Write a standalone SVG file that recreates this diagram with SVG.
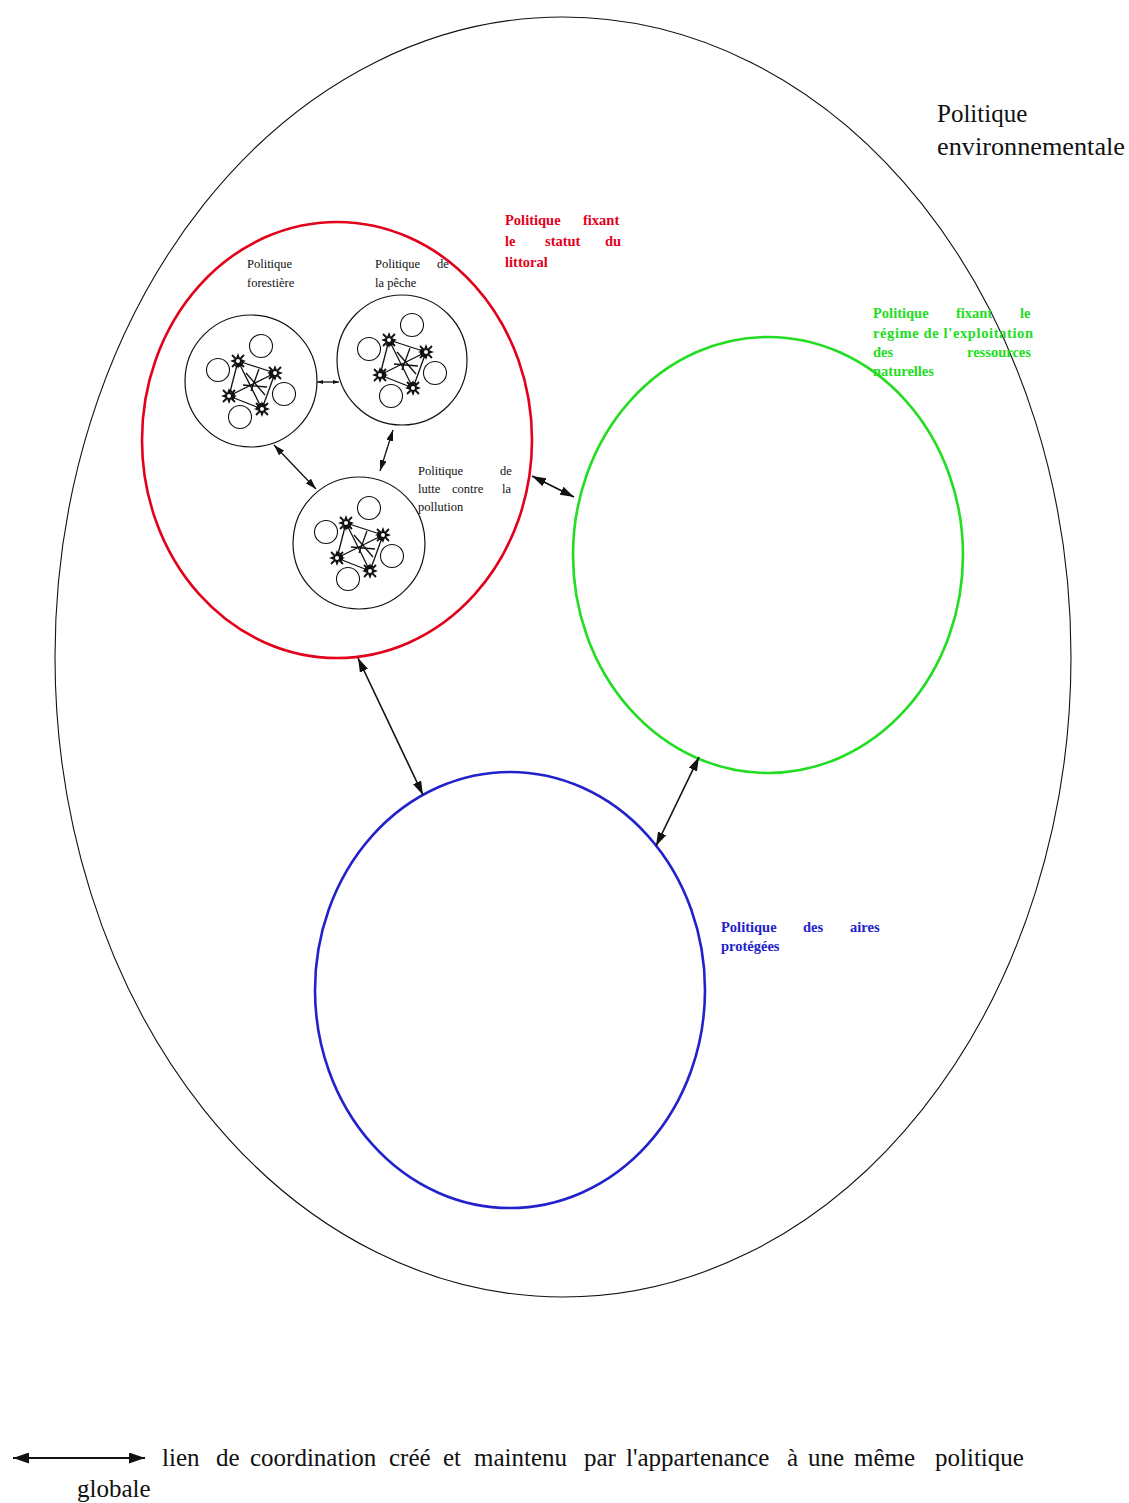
<svg xmlns="http://www.w3.org/2000/svg" xmlns:xlink="http://www.w3.org/1999/xlink" width="1129" height="1503" viewBox="0 0 1129 1503">
<style>
.serif{font-family:"Liberation Serif","Times New Roman",serif}
.big{font-size:25px;fill:#111}
.small{font-size:12.5px;fill:#111}
.lab{font-size:14.5px;font-weight:bold}
.red{fill:#e3001b}
.green{fill:#22dd22}
.blue{fill:#2222cc}
.conn line{stroke:#111;stroke-width:1.6;fill:none}
.kite line{stroke:#111;stroke-width:1.3}
</style>
<defs>
<marker id="ah" viewBox="0 0 14 9" refX="14" refY="4.5" markerWidth="14" markerHeight="9" markerUnits="userSpaceOnUse" orient="auto-start-reverse"><path d="M0,0 L14,4.5 L0,9 z" fill="#111"/></marker>
<marker id="ahl" viewBox="0 0 16 11" refX="16" refY="5.5" markerWidth="16" markerHeight="11" markerUnits="userSpaceOnUse" orient="auto-start-reverse"><path d="M0,0 L16,5.5 L0,11 z" fill="#111"/></marker>
<marker id="ahm" viewBox="0 0 11 7" refX="11" refY="3.5" markerWidth="11" markerHeight="7" markerUnits="userSpaceOnUse" orient="auto-start-reverse"><path d="M0,0 L11,3.5 L0,7 z" fill="#111"/></marker>
<marker id="ahs" viewBox="0 0 6 4" refX="6" refY="2" markerWidth="6" markerHeight="4" markerUnits="userSpaceOnUse" orient="auto-start-reverse"><path d="M0,0 L6,2 L0,4 z" fill="#111"/></marker>
<g id="star">
<path d="M0,-8 L2.2,-2.2 L8,0 L2.2,2.2 L0,8 L-2.2,2.2 L-8,0 L-2.2,-2.2 z" fill="#111"/>
<path d="M-6,-6 L6,6 M-6,6 L6,-6" stroke="#111" stroke-width="1.8"/>
<circle r="2" fill="#fff"/>
</g>
<g id="cluster">
<g fill="#fff" stroke="#111" stroke-width="1.1">
<circle cx="10" cy="-35" r="11.5"/>
<circle cx="-33" cy="-11" r="11.5"/>
<circle cx="33" cy="13" r="11.5"/>
<circle cx="-11" cy="36" r="11.5"/>
</g>
<g class="kite">
<line x1="-13" y1="-20" x2="24" y2="-8" marker-start="url(#ahs)" marker-end="url(#ahs)"/>
<line x1="24" y1="-8" x2="11" y2="28" marker-start="url(#ahs)" marker-end="url(#ahs)"/>
<line x1="11" y1="28" x2="-22" y2="15" marker-start="url(#ahs)" marker-end="url(#ahs)"/>
<line x1="-22" y1="15" x2="-13" y2="-20" marker-start="url(#ahs)" marker-end="url(#ahs)"/>
<line x1="-13" y1="-20" x2="11" y2="28" marker-start="url(#ahs)" marker-end="url(#ahs)"/>
<line x1="24" y1="-8" x2="-22" y2="15" marker-start="url(#ahs)" marker-end="url(#ahs)"/>
<line x1="8" y1="-12" x2="0" y2="10"/>
<line x1="-8" y1="4" x2="16" y2="6"/>
<line x1="-5" y1="-8" x2="14" y2="14"/>
</g>
<use xlink:href="#star" x="-13" y="-20"/>
<use xlink:href="#star" x="24" y="-8"/>
<use xlink:href="#star" x="-22" y="15"/>
<use xlink:href="#star" x="11" y="28"/>
</g>
</defs>
<rect width="1129" height="1503" fill="#fff"/>

<g id="outer">
<ellipse cx="563" cy="657" rx="508" ry="640" fill="none" stroke="#111" stroke-width="1.1"/>
<text class="serif big" x="937" y="122">Politique</text>
<text class="serif big" x="937" y="155" textLength="188" lengthAdjust="spacingAndGlyphs">environnementale</text>
</g>

<g id="littoral">
<ellipse cx="337" cy="440" rx="195" ry="218" fill="none" stroke="#e3001b" stroke-width="2.6"/>
<text class="serif lab red"><tspan x="505" y="225">Politique</tspan><tspan x="583" y="225">fixant</tspan><tspan x="505" y="246">le</tspan><tspan x="545" y="246">statut</tspan><tspan x="605" y="246">du</tspan><tspan x="505" y="267">littoral</tspan></text>
</g>

<g id="exploitation">
<ellipse cx="768" cy="555" rx="195" ry="218" fill="none" stroke="#22dd22" stroke-width="2.6"/>
<text class="serif lab green"><tspan x="873" y="318">Politique</tspan><tspan x="956" y="318">fixant</tspan><tspan x="1020" y="318">le</tspan></text>
<text class="serif lab green" x="873" y="338" textLength="160" lengthAdjust="spacing">régime de l'exploitation</text>
<text class="serif lab green"><tspan x="873" y="357">des</tspan><tspan x="967" y="357">ressources</tspan><tspan x="873" y="376">naturelles</tspan></text>
</g>

<g id="aires">
<ellipse cx="510" cy="990" rx="195" ry="218" fill="none" stroke="#2222cc" stroke-width="2.6"/>
<text class="serif lab blue"><tspan x="721" y="932">Politique</tspan><tspan x="803" y="932">des</tspan><tspan x="850" y="932">aires</tspan><tspan x="721" y="951">protégées</tspan></text>
</g>

<g id="forestiere">
<circle cx="251" cy="381" r="66" fill="none" stroke="#111" stroke-width="1.2"/>
<use xlink:href="#cluster" x="251" y="381"/>
<text class="serif small"><tspan x="247" y="268">Politique</tspan><tspan x="247" y="287">forestière</tspan></text>
</g>

<g id="peche">
<circle cx="402" cy="360" r="65" fill="none" stroke="#111" stroke-width="1.2"/>
<use xlink:href="#cluster" x="402" y="360"/>
<text class="serif small"><tspan x="375" y="268">Politique</tspan><tspan x="437" y="268">de</tspan><tspan x="375" y="287">la pêche</tspan></text>
</g>

<g id="pollution">
<circle cx="359" cy="543" r="66" fill="none" stroke="#111" stroke-width="1.2"/>
<use xlink:href="#cluster" x="359" y="543"/>
<text class="serif small"><tspan x="418" y="475">Politique</tspan><tspan x="500" y="475">de</tspan><tspan x="418" y="493">lutte</tspan><tspan x="452" y="493">contre</tspan><tspan x="502" y="493">la</tspan><tspan x="418" y="511">pollution</tspan></text>
</g>

<g id="connectors" class="conn">
<line x1="317" y1="382" x2="339" y2="382" marker-start="url(#ahs)" marker-end="url(#ahs)" style="stroke-width:1.3"/>
<line x1="274" y1="445" x2="316" y2="489" marker-start="url(#ahm)" marker-end="url(#ahm)" style="stroke-width:1.3"/>
<line x1="393" y1="430" x2="380" y2="471" marker-start="url(#ahm)" marker-end="url(#ahm)" style="stroke-width:1.3"/>
<line x1="532" y1="476" x2="574" y2="497" marker-start="url(#ah)" marker-end="url(#ah)"/>
<line x1="358" y1="658" x2="423" y2="795" marker-start="url(#ah)" marker-end="url(#ah)"/>
<line x1="699" y1="757" x2="656" y2="846" marker-start="url(#ah)" marker-end="url(#ah)"/>
</g>

<g id="legend">
<line x1="13" y1="1458" x2="145" y2="1458" stroke="#111" stroke-width="1.8" marker-start="url(#ahl)" marker-end="url(#ahl)"/>
<text class="serif big"><tspan x="162" y="1466">lien</tspan><tspan x="216" y="1466">de</tspan><tspan x="250" y="1466">coordination</tspan><tspan x="389" y="1466">créé</tspan><tspan x="443" y="1466">et</tspan><tspan x="474" y="1466">maintenu</tspan><tspan x="584" y="1466">par</tspan><tspan x="626" y="1466">l'appartenance</tspan><tspan x="787" y="1466">à</tspan><tspan x="808" y="1466">une</tspan><tspan x="854" y="1466">même</tspan><tspan x="935" y="1466">politique</tspan><tspan x="77" y="1497">globale</tspan></text>
</g>
</svg>
